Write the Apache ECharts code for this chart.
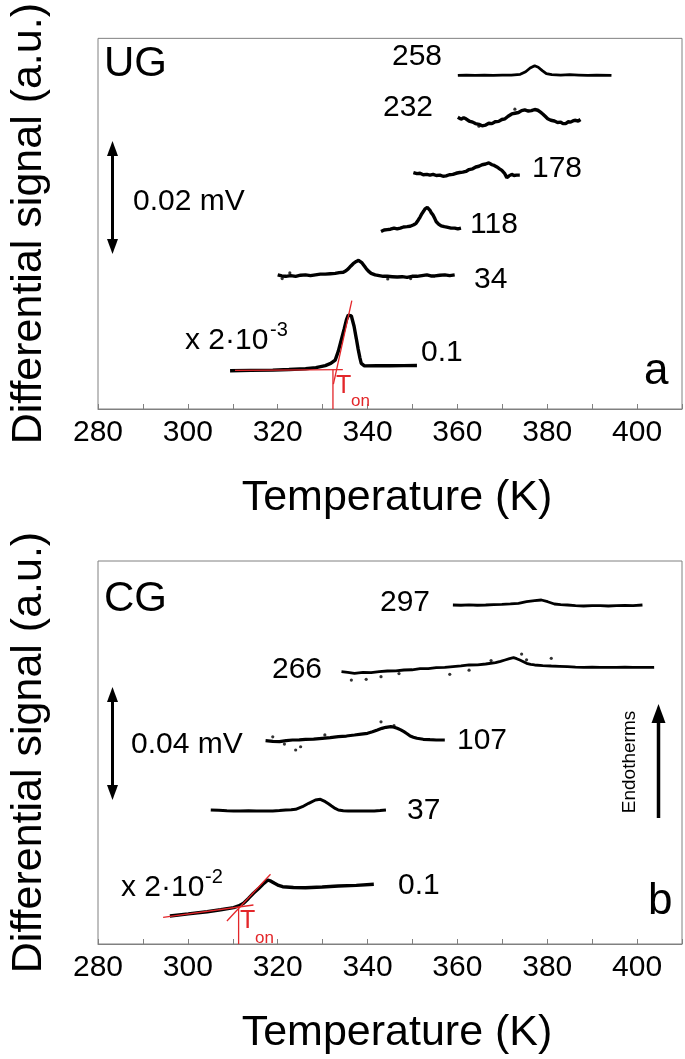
<!DOCTYPE html>
<html>
<head>
<meta charset="utf-8">
<script src="https://cdn.jsdelivr.net/npm/echarts@6/dist/echarts.min.js"></script>
<style>
html,body{margin:0;padding:0;background:#fff;}
#chart{width:685px;height:1059px;}
</style>
</head>
<body>
<div id="chart"></div>
<script>
// ---------- data (Temperature K, signal in arbitrary units) ----------
const X_TICKS = { min: 280, max: 410, step: 10, labelStep: 20 };

// Panel a (UG)
const UG_258 = [[360.1,90.0],[362,90.1],[364,90.0],[366,90.1],[368,90.0],[370,90.1],[372,90.1],[374,90.3],[375.2,91.0],[376.2,92.0],[377.2,92.6],[378.0,92.2],[378.9,91.3],[379.8,90.5],[381,90.2],[383,90.1],[385,90.2],[387,90.1],[389,90.0],[391,90.1],[394.3,90.0]];
const UG_232 = [[360.1,78.7],[360.8,78.2],[361.4,78.6],[361.9,78.3],[362.6,77.7],[363.4,77.4],[364.0,77.0],[364.8,76.8],[365.5,76.4],[366.3,76.6],[367.0,77.1],[367.7,77.0],[368.4,77.5],[369.2,77.6],[369.9,78.1],[370.6,78.3],[371.3,79.0],[372.1,79.6],[372.8,79.8],[373.6,80.0],[374.3,80.5],[375.0,80.7],[375.8,80.4],[376.5,80.5],[377.2,80.8],[377.9,80.6],[378.5,80.1],[379.0,79.6],[379.6,78.9],[380.1,78.3],[380.8,77.9],[381.6,77.7],[382.3,77.3],[383.0,77.4],[383.5,77.0],[384.1,77.0],[384.7,77.5],[385.2,77.4],[385.8,77.8],[386.3,77.9],[386.9,77.7],[387.4,78.1]];
const UG_178 = [[350.2,63.8],[351.0,63.5],[351.7,63.6],[352.4,63.2],[353.2,63.3],[353.9,63.1],[354.6,63.3],[355.3,63.0],[356.1,63.1],[356.8,62.8],[357.5,62.9],[358.2,63.2],[359.0,63.3],[359.7,63.6],[360.5,63.8],[361.2,63.9],[361.9,64.1],[362.6,64.6],[363.4,64.8],[364.1,65.3],[364.8,65.5],[365.5,65.9],[366.3,66.1],[367.0,66.4],[367.7,65.9],[368.2,65.7],[368.8,65.3],[369.4,64.8],[369.9,64.4],[370.5,63.6],[371.0,62.4],[371.5,62.9],[372.1,63.3],[372.6,63.0],[373.2,63.1],[373.9,63.1]];
const UG_118 = [[343.0,47.9],[343.7,48.3],[344.4,48.4],[345.1,48.5],[345.9,48.8],[346.6,48.6],[347.3,48.8],[348.0,49.1],[348.8,49.2],[349.5,49.3],[350.3,49.7],[350.8,50.1],[351.3,51.0],[351.7,51.8],[352.1,52.7],[352.5,53.4],[352.8,54.0],[353.3,54.4],[353.6,54.0],[353.9,53.6],[354.2,52.9],[354.6,52.3],[355.0,51.3],[355.3,50.5],[355.8,49.9],[356.4,49.4],[357.1,49.2],[357.9,49.0],[358.6,48.8],[359.4,48.8],[360.1,48.6],[360.8,48.8]];
const UG_34 = [[320.0,36.2],[320.9,35.9],[321.8,35.8],[322.9,36.0],[324.0,35.8],[325.1,36.1],[326.2,36.2],[327.3,36.0],[328.4,36.2],[329.5,36.4],[330.6,36.4],[331.7,36.5],[332.8,36.6],[333.7,36.8],[334.6,36.9],[335.2,37.3],[335.7,37.8],[336.3,38.6],[336.8,39.2],[337.5,39.8],[338.0,40.1],[338.4,39.8],[338.7,39.5],[339.2,38.7],[339.7,37.9],[340.2,37.2],[340.8,36.6],[341.7,36.2],[342.6,36.0],[343.5,35.8],[344.4,35.8],[345.5,35.7],[346.6,35.6],[347.7,35.7],[348.8,35.5],[349.9,35.8],[351.0,35.8],[352.1,36.0],[353.2,36.2],[354.1,35.9],[355.0,35.9],[356.1,36.1],[357.2,36.2],[358.3,36.0],[359.4,36.2]];
const UG_01 = [[309.4,10.34],[314,10.42],[318.9,10.49],[322.5,10.65],[326.2,10.86],[328.5,11.15],[330.6,11.72],[331.8,12.3],[332.8,13.20],[333.5,15.6],[334.2,18.83],[334.8,21.6],[335.3,24.04],[335.7,25.3],[336.0,25.6],[336.4,25.1],[337.0,22.32],[337.5,19.0],[337.9,16.22],[338.3,13.8],[338.6,12.32],[339.3,11.64],[342,11.66],[345,11.67],[348,11.70],[351.0,11.72]];
const UG_DOTS = [[372.8,80.9],[364.8,76.3],[321.0,35.2],[344.5,35.1],[349.6,35.2],[322.7,36.7]];
const UG_BASE_TAN = [[310.5,10.44],[334.5,10.60]];
const UG_STEEP_TAN = [[332.4,6.69],[336.5,29.24]];
const UG_TON = [[332.3,0],[332.3,10.6]];

// Panel b (CG)
const CG_297 = [[359.0,88.51],[360.8,88.45],[362.6,88.55],[364.4,88.45],[366.3,88.51],[368.1,88.6],[369.9,88.69],[371.8,88.8],[373.6,88.96],[375.4,89.37],[377.2,89.63],[378.7,89.82],[380.1,89.37],[381.6,88.77],[383.0,88.6],[384.5,88.51],[386.3,88.35],[388.1,88.25],[390.0,88.35],[391.8,88.33],[393.6,88.25],[395.4,88.33],[397.3,88.4],[399.1,88.33],[401.2,88.51]];
const CG_266 = [[334.2,71.10],[335.6,70.9],[337.1,70.68],[339.0,70.9],[340.8,70.84],[342.6,71.1],[344.4,71.28],[346.3,71.3],[348.1,71.54],[349.9,71.6],[351.7,71.88],[353.5,71.9],[355.3,72.14],[357.2,72.2],[359.0,72.40],[360.8,72.6],[362.6,72.85],[364.5,72.9],[366.3,73.11],[368.5,73.45],[369.6,73.8],[370.6,74.15],[371.6,74.5],[372.5,74.75],[373.2,74.5],[373.9,74.15],[374.7,73.7],[375.4,73.29],[376.3,73.0],[377.2,72.85],[379.0,72.7],[380.9,72.58],[382.7,72.5],[384.5,72.40],[386.3,72.3],[388.1,72.25],[390.0,72.3],[391.8,72.25],[393.6,72.2],[395.4,72.25],[397.3,72.3],[399.1,72.25],[401.5,72.2],[403.8,72.25]];
const CG_266_DOTS = [[336.4,68.9],[339.7,69.1],[343.0,69.8],[358.3,70.4],[362.6,71.5],[374.3,75.7],[375.4,74.2],[380.9,74.6],[347.0,70.6],[367.5,74.0]];
const CG_107 = [[317.3,53.08],[318.9,52.9],[320.4,52.82],[321.9,53.1],[323.3,53.26],[324.8,53.3],[326.2,53.45],[328.0,53.5],[329.9,53.71],[331.7,53.9],[333.5,54.13],[335.3,54.3],[337.1,54.57],[338.6,54.8],[340.0,55.01],[341.1,55.4],[342.2,55.87],[343.2,56.3],[344.1,56.58],[345.2,56.74],[345.9,56.6],[346.6,56.32],[347.4,55.9],[348.1,55.43],[348.8,54.9],[349.5,54.31],[350.2,54.0],[351.0,53.71],[352.4,53.45],[353.9,53.35],[355.3,53.26],[357.2,53.26]];
const CG_107_DOTS = [[324.0,50.65],[325.1,51.5],[343.0,58.0],[345.9,57.0],[318.9,54.1],[321.5,52.2],[330.5,54.6]];
const CG_37 = [[305.1,34.99],[306.9,34.9],[308.7,34.80],[310.2,34.75],[311.6,34.73],[313.5,34.8],[315.3,34.73],[317.1,34.75],[318.9,34.73],[320.4,34.85],[321.8,34.99],[323.0,35.05],[324.0,35.17],[325.5,35.85],[326.9,36.74],[328.4,37.60],[329.5,37.78],[330.6,37.15],[331.3,36.6],[332.0,36.03],[332.8,35.4],[333.5,34.99],[334.6,34.8],[335.7,34.73],[337.1,34.75],[338.6,34.73],[340.0,34.75],[341.5,34.73],[342.8,34.85],[344.1,34.99]];
const CG_01 = [[296.0,7.31],[300.1,7.85],[304.3,8.43],[307.3,8.95],[310.2,9.48],[311.3,9.95],[312.4,10.63],[313.5,11.9],[314.6,13.24],[315.7,14.4],[316.7,15.59],[317.3,16.2],[317.8,16.71],[318.5,16.4],[319.3,15.85],[320.2,15.3],[321.1,14.96],[323.5,14.75],[326.2,14.70],[329.9,14.9],[333.5,15.14],[337.5,15.3],[341.4,15.59]];
const CG_BASE_TAN = [[294.5,6.97],[314.6,10.18]];
const CG_STEEP_TAN = [[308.7,6.01],[318.4,18.20]];
const CG_TON = [[311.3,0],[311.3,9.74]];

// ---------- chart ----------
const FONT = '"Liberation Sans", Arial, Helvetica, sans-serif';
const RED = '#e3262a';
const chart = echarts.init(document.getElementById('chart'), null, { renderer: 'canvas' });

function xAxisFor(gi) {
  return {
    type: 'value', gridIndex: gi, min: X_TICKS.min, max: X_TICKS.max, interval: X_TICKS.step,
    name: 'Temperature (K)', nameLocation: 'middle', nameGap: 68,
    nameTextStyle: { fontSize: 43, color: '#000', fontFamily: FONT, padding: [0, 0, 0, 14] },
    axisLine: { show: true, lineStyle: { color: '#808080', width: 1 } },
    axisTick: { show: true, inside: true, length: 5, lineStyle: { color: '#808080' } },
    axisLabel: { fontSize: 30, color: '#000', fontFamily: FONT, margin: 9,
      formatter: v => (v % X_TICKS.labelStep === 0 && v <= 400 ? String(v) : '') },
    splitLine: { show: false }
  };
}
function yAxisFor(gi) {
  return {
    type: 'value', gridIndex: gi, min: 0, max: 100,
    name: 'Differential signal (a.u.)', nameLocation: 'middle', nameGap: 47,
    nameTextStyle: { fontSize: 43, color: '#000', fontFamily: FONT },
    axisLine: { show: false }, axisTick: { show: false }, axisLabel: { show: false },
    splitLine: { show: false }
  };
}
function curve(data, gi, w) {
  return { type: 'line', xAxisIndex: gi, yAxisIndex: gi, data: data, showSymbol: false, symbol: 'none',
    lineStyle: { color: '#000', width: w || 3.4 }, silent: true, z: 3 };
}
function dots(data, gi) {
  return { type: 'scatter', xAxisIndex: gi, yAxisIndex: gi, data: data, symbol: 'circle', symbolSize: 3.2,
    itemStyle: { color: '#000' }, silent: true, z: 3 };
}
function redLine(data, gi) {
  return { type: 'line', xAxisIndex: gi, yAxisIndex: gi, data: data, showSymbol: false, symbol: 'none',
    lineStyle: { color: RED, width: 1.3 }, silent: true, z: 4 };
}
function txt(text, x, y, size, align, color, extra) {
  return Object.assign({ type: 'text', x: x, y: y, silent: true, z: 10,
    style: { text: text, fill: color || '#000', font: size + 'px ' + FONT,
      textAlign: align || 'left', align: align || 'left', textVerticalAlign: 'middle', verticalAlign: 'middle' } }, extra || {});
}
function vArrow(x, y1, y2, both, lw, hw, hl) {
  const els = [{ type: 'line', silent: true, shape: { x1: x, y1: y1 + hl - 2, x2: x, y2: both ? y2 - hl + 2 : y2 },
    style: { stroke: '#000', lineWidth: lw } }];
  els.push({ type: 'polygon', silent: true, shape: { points: [[x, y1], [x - hw / 2, y1 + hl], [x + hw / 2, y1 + hl]] }, style: { fill: '#000' } });
  if (both) els.push({ type: 'polygon', silent: true, shape: { points: [[x, y2], [x - hw / 2, y2 - hl], [x + hw / 2, y2 - hl]] }, style: { fill: '#000' } });
  return els;
}

const graphics = [
  // panel a
  txt('UG', 104, 64, 42),
  txt('258', 442, 57, 30, 'right'),
  txt('232', 433, 108, 30, 'right'),
  txt('178', 532, 169, 30),
  txt('118', 470, 225, 30),
  txt('34', 474, 280, 30),
  txt('0.1', 421, 353, 30),
  txt('x 2\u00b710', 185, 341, 30),
  txt('-3', 270, 330, 20),
  txt('0.02 mV', 133, 202, 30),
  txt('T', 336, 386, 25, 'left', RED),
  txt('on', 351, 401, 17, 'left', RED),
  txt('a', 644, 372, 44),
  // panel b
  txt('CG', 104, 599, 42),
  txt('297', 430, 603, 30, 'right'),
  txt('266', 322, 670, 30, 'right'),
  txt('107', 457, 741, 30),
  txt('37', 407, 811, 30),
  txt('0.1', 398, 886, 30),
  txt('x 2\u00b710', 121, 888, 30),
  txt('-2', 205, 877, 20),
  txt('0.04 mV', 131, 745, 30),
  txt('T', 240, 921, 25, 'left', RED),
  txt('on', 255, 938, 17, 'left', RED),
  txt('b', 648, 902, 44),
  txt('Endotherms', 630, 762, 19, 'center', '#000', { rotation: Math.PI / 2 })
].concat(vArrow(112.5, 141, 254, true, 3, 11, 15))
 .concat(vArrow(112.5, 687, 800, true, 3, 11, 15))
 .concat(vArrow(658.5, 704, 818, false, 3.5, 14, 19));

chart.setOption({
  animation: false,
  backgroundColor: '#fff',
  grid: [
    { left: 88.6, right: 2, top: 25, height: 384, show: true, borderColor: '#808080', borderWidth: 1, containLabel: false },
    { left: 88.6, right: 2, top: 561, height: 383, show: true, borderColor: '#808080', borderWidth: 1, containLabel: false }
  ],
  xAxis: [xAxisFor(0), xAxisFor(1)],
  yAxis: [yAxisFor(0), yAxisFor(1)],
  series: [
    curve(UG_258, 0, 2.8), curve(UG_232, 0), curve(UG_178, 0), curve(UG_118, 0), curve(UG_34, 0), curve(UG_01, 0, 3.4),
    dots(UG_DOTS, 0),
    redLine(UG_BASE_TAN, 0), redLine(UG_STEEP_TAN, 0), redLine(UG_TON, 0),
    curve(CG_297, 1, 2.8), curve(CG_266, 1, 2.8), curve(CG_107, 1, 3.2), curve(CG_37, 1, 3), curve(CG_01, 1, 3.4),
    dots(CG_266_DOTS, 1), dots(CG_107_DOTS, 1),
    redLine(CG_BASE_TAN, 1), redLine(CG_STEEP_TAN, 1), redLine(CG_TON, 1)
  ],
  graphic: graphics
});
</script>
</body>
</html>
